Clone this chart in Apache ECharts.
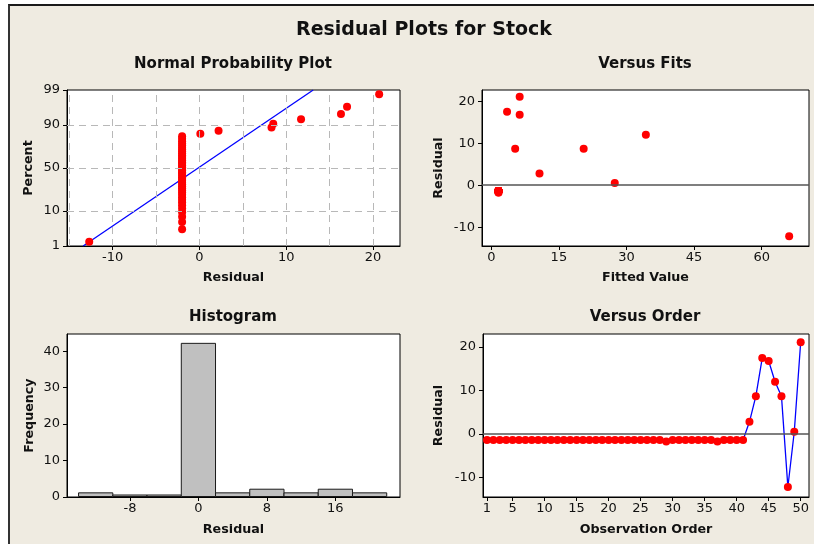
<!DOCTYPE html>
<html><head><meta charset="utf-8">
<script src="https://cdn.jsdelivr.net/npm/echarts@6/dist/echarts.min.js"></script>
<style>
html,body{margin:0;padding:0;background:#fff;overflow:hidden;width:814px;height:544px;}
#frame{position:absolute;left:8px;top:4px;width:900px;height:600px;background:#EFEBE1;border-left:2px solid #333;border-top:2px solid #1a1a1a;}
#c{position:absolute;left:0;top:0;width:814px;height:544px;}
</style>
</head><body><div id="frame"></div><div id="c"></div>
<script>
// ---------- DATA ----------
// Normal probability plot: residuals in sorted order
const nprResiduals = [
  -12.7,
  -2.0,-2.0,-2.0,-2.0,-2.0,-2.0,-2.0,-2.0,-2.0,-2.0,
  -2.0,-2.0,-2.0,-2.0,-2.0,-2.0,-2.0,-2.0,-2.0,-2.0,
  -2.0,-2.0,-2.0,-2.0,-2.0,-2.0,-2.0,-2.0,-2.0,-2.0,
  -2.0,-2.0,-2.0,-2.0,-2.0,-2.0,-2.0,-2.0,-2.0,-2.0,
  -2.0,
  0.1, 2.2, 8.3, 8.5, 11.7, 16.3, 17.0, 20.7
];
// fitted normal line end points [residual, percent]
const nprLineEnds = [[-13.4, 1], [13.1, 99]];
const percentTicks = [1, 10, 50, 90, 99];
const percentGrid = [10, 50, 90];
const nprGridX = [-15, -10, -5, 0, 5, 10, 15, 20];
const nprTicksX = [-10, 0, 10, 20];

// residuals by observation order
const residuals = [
  -1.4,-1.4,-1.4,-1.4,-1.4,-1.4,-1.4,-1.4,-1.4,-1.4,
  -1.4,-1.4,-1.4,-1.4,-1.4,-1.4,-1.4,-1.4,-1.4,-1.4,
  -1.4,-1.4,-1.4,-1.4,-1.4,-1.4,-1.4,-1.4,-1.75,-1.4,
  -1.4,-1.4,-1.4,-1.4,-1.4,-1.4,-1.75,-1.4,-1.4,-1.4,
  -1.4, 2.8, 8.7, 17.5, 16.8, 12.0, 8.7, -12.2, 0.5, 21.1
];
// fitted values by observation order
const fittedValues = [
  1.6,1.6,1.6,1.6,1.6,1.6,1.6,1.6,1.6,1.6,
  1.6,1.6,1.6,1.6,1.6,1.6,1.6,1.6,1.6,1.6,
  1.6,1.6,1.6,1.6,1.6,1.6,1.6,1.6,1.6,1.6,
  1.6,1.6,1.6,1.6,1.6,1.6,1.6,1.6,1.6,1.6,
  1.6, 10.7, 5.3, 3.5, 6.3, 34.3, 20.5, 66.1, 27.4, 6.3
];
const fitsTicksX = [0, 15, 30, 45, 60];
const residTicks = [-10, 0, 10, 20];

// histogram
const histBinCenters = [-12, -8, -4, 0, 4, 8, 12, 16, 20];
const histBinWidth = 4;
const histCounts = [1, 0, 0, 42, 1, 2, 1, 2, 1];
const histTicksX = [-8, 0, 8, 16];
const histTicksY = [0, 10, 20, 30, 40];

const orderTicks = [1, 5, 10, 15, 20, 25, 30, 35, 40, 45, 50];

// ---------- helpers ----------
function normInv(p){
  const a=[-3.969683028665376e+01,2.209460984245205e+02,-2.759285104469687e+02,1.383577518672690e+02,-3.066479806614716e+01,2.506628277459239e+00];
  const b=[-5.447609879822406e+01,1.615858368580409e+02,-1.556989798598866e+02,6.680131188771972e+01,-1.328068155288572e+01];
  const c=[-7.784894002430293e-03,-3.223964580411365e-01,-2.400758277161838e+00,-2.549732539343734e+00,4.374664141464968e+00,2.938163982698783e+00];
  const d=[7.784695709041462e-03,3.224671290700398e-01,2.445134137142996e+00,3.754408661907416e+00];
  const pl=0.02425, ph=1-pl; let q,r;
  if(p<pl){q=Math.sqrt(-2*Math.log(p));return (((((c[0]*q+c[1])*q+c[2])*q+c[3])*q+c[4])*q+c[5])/((((d[0]*q+d[1])*q+d[2])*q+d[3])*q+1);}
  if(p>ph){q=Math.sqrt(-2*Math.log(1-p));return -(((((c[0]*q+c[1])*q+c[2])*q+c[3])*q+c[4])*q+c[5])/((((d[0]*q+d[1])*q+d[2])*q+d[3])*q+1);}
  q=p-0.5;r=q*q;return (((((a[0]*r+a[1])*r+a[2])*r+a[3])*r+a[4])*r+a[5])*q/(((((b[0]*r+b[1])*r+b[2])*r+b[3])*r+b[4])*r+1);
}
const pz = p => normInv(p/100);
const n = nprResiduals.length;
const nprPoints = nprResiduals.map((v,i)=>[v, pz(100*(i+1-0.3)/(n+0.4))]);
const nprLine = nprLineEnds.map(e=>[e[0], pz(e[1])]);
const fitsPoints = residuals.map((r,i)=>[fittedValues[i], r]);
const orderPoints = residuals.map((r,i)=>[i+1, r]);
const histData = histBinCenters.map((c,i)=>[c-histBinWidth/2, c+histBinWidth/2, histCounts[i]]);

const FONT = 'DejaVu Sans';
const TXT = '#111';
function axis(idx, type, min, max, ticks, name, gap, fmt){
  const isY = type === 'y';
  return {
    type:'value', gridIndex: idx, min, max,
    name, nameLocation:'middle', nameGap: gap,
    nameTextStyle:{fontFamily:FONT, fontWeight:'bold', fontSize:12.7, color:TXT},
    axisLine:{show:true, onZero:false, lineStyle:{color:'#000', width:1}},
    axisTick:{show:true, inside:false, length:4, customValues: ticks, lineStyle:{color:'#000'}},
    axisLabel:{show:true, customValues: ticks, margin: isY?7:5, fontFamily:FONT, fontSize:13, color:TXT,
      formatter: fmt || (v=>String(Math.round(v)))},
    splitLine:{show:false}
  };
}
const pctFmt = v => { let best=percentTicks[0], bd=1e9; percentTicks.forEach(p=>{const dd=Math.abs(pz(p)-v); if(dd<bd){bd=dd;best=p;}}); return String(best); };

const grids = [
  {left:67, top:90, width:333, height:156},
  {left:482, top:90, width:327, height:156},
  {left:67, top:334, width:333, height:163},
  {left:483, top:334, width:326, height:163}
].map(g=>Object.assign(g,{show:true, backgroundColor:'#fff', borderColor:'#000', borderWidth:1, containLabel:false}));

const dash = {color:'#b8b8b8', width:1, type:[7,5]};
const zeroLine = {silent:true, symbol:['none','none'], label:{show:false}, lineStyle:{color:'#555', width:1.5, type:'solid'}, data:[{yAxis:0}]};
const dot = {color:'#ff0000', opacity:1};

const titles = [
  ['Residual Plots for Stock', 424, 30, 19],
  ['Normal Probability Plot', 233, 64, 15],
  ['Versus Fits', 645, 64, 15],
  ['Histogram', 233, 317, 15],
  ['Versus Order', 645, 317, 15]
];

const option = {
  backgroundColor:'transparent',
  animation:false,
  grid: grids,
  xAxis: [
    axis(0,'x',-15.26,23.1,nprTicksX,'Residual',25),
    axis(1,'x',-2.06,70.5,fitsTicksX,'Fitted Value',25),
    axis(2,'x',-15.35,23.55,histTicksX,'Residual',26),
    axis(3,'x',0.38,51.3,orderTicks,'Observation Order',26)
  ],
  yAxis: [
    axis(0,'y',pz(1),pz(99),percentTicks.map(pz),'Percent',32,pctFmt),
    axis(1,'y',-14.5,22.7,residTicks,'Residual',37),
    axis(2,'y',0,44.7,histTicksY,'Frequency',31),
    axis(3,'y',-14.5,23,residTicks,'Residual',38)
  ],
  graphic: titles.map(t=>({type:'text', x:t[1], y:t[2], silent:true,
    style:{text:t[0], fontFamily:FONT, fontWeight:'bold', fontSize:t[3], fill:'#111', textAlign:'center', textVerticalAlign:'middle'}})),
  series: [
    // NPP grid lines
    {type:'line', xAxisIndex:0, yAxisIndex:0, data:[], z:1, silent:true,
      markLine:{silent:true, symbol:['none','none'], label:{show:false}, lineStyle:dash,
        data: nprGridX.map(x=>({xAxis:x})).concat(percentGrid.map(p=>({yAxis:pz(p)})))}},
    {type:'line', xAxisIndex:0, yAxisIndex:0, data:nprLine, showSymbol:false, symbol:'none', z:3,
      lineStyle:{color:'#0000ff', width:1.3}},
    {type:'scatter', xAxisIndex:0, yAxisIndex:0, data:nprPoints, symbolSize:8, z:4, itemStyle:dot},
    // versus fits
    {type:'scatter', xAxisIndex:1, yAxisIndex:1, data:fitsPoints, symbolSize:8, z:4,
      itemStyle:dot, markLine: zeroLine},
    // histogram
    {type:'custom', xAxisIndex:2, yAxisIndex:2, data:histData, encode:{x:[0,1], y:2}, z:3,
      renderItem:(params, api)=>{
        const p0 = api.coord([api.value(0), api.value(2)]);
        const p1 = api.coord([api.value(1), 0]);
        const h = Math.max(p1[1]-p0[1], 1.5);
        return {type:'rect', shape:{x:p0[0], y:p1[1]-h-0.5, width:p1[0]-p0[0], height:h},
          style:{fill:'#c0c0c0', stroke:'#1a1a1a', lineWidth:1}};
      }},
    // versus order
    {type:'line', xAxisIndex:3, yAxisIndex:3, data:orderPoints, symbol:'circle', symbolSize:8, showSymbol:true, z:4,
      lineStyle:{color:'#0000ff', width:1.3}, itemStyle:dot, markLine: zeroLine}
  ]
};
const chart = echarts.init(document.getElementById('c'), null, {renderer:'canvas'});
chart.setOption(option);
</script>
</body></html>
